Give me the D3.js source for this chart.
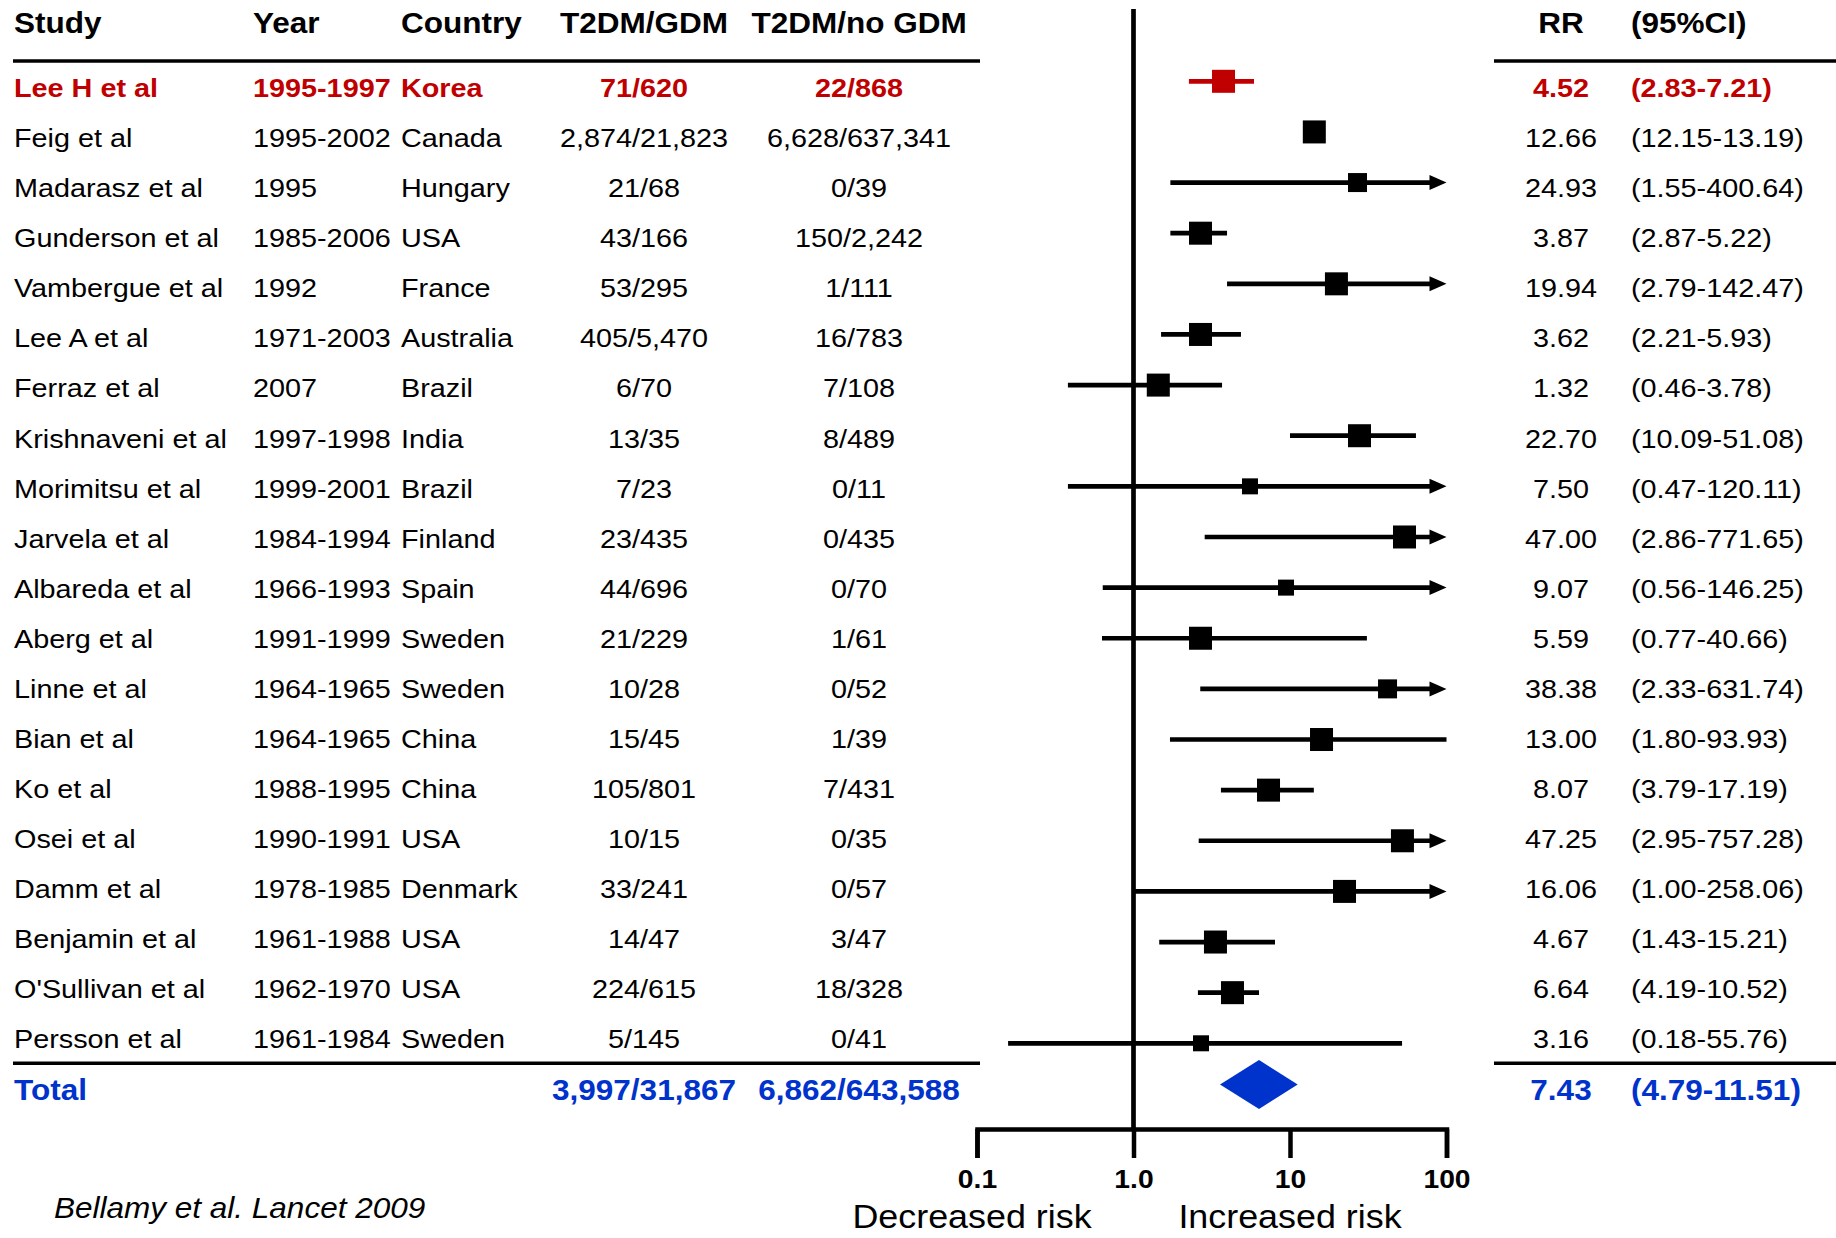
<html>
<head>
<meta charset="utf-8">
<script src="https://d3js.org/d3.v7.min.js"></script>
<style>
    body {margin: 0; background: #fff;}
    text {font-family: "Liberation Sans", Arial, sans-serif;}
</style>
</head>
<body>
<svg width=1836 height=1238></svg>

<script>
// table columns
const headers = ["Study", "Year", "Country", "T2DM/GDM", "T2DM/no GDM", "RR", "(95%CI)"];
const studies = ["Lee H et al", "Feig et al", "Madarasz et al", "Gunderson et al", "Vambergue et al", "Lee A et al",
    "Ferraz et al", "Krishnaveni et al", "Morimitsu et al", "Jarvela et al", "Albareda et al", "Aberg et al",
    "Linne et al", "Bian et al", "Ko et al", "Osei et al", "Damm et al", "Benjamin et al", "O'Sullivan et al", "Persson et al"];
const years = ["1995-1997", "1995-2002", "1995", "1985-2006", "1992", "1971-2003", "2007", "1997-1998", "1999-2001",
    "1984-1994", "1966-1993", "1991-1999", "1964-1965", "1964-1965", "1988-1995", "1990-1991", "1978-1985",
    "1961-1988", "1962-1970", "1961-1984"];
const countries = ["Korea", "Canada", "Hungary", "USA", "France", "Australia", "Brazil", "India", "Brazil", "Finland",
    "Spain", "Sweden", "Sweden", "China", "China", "USA", "Denmark", "USA", "USA", "Sweden"];
const gdm = ["71/620", "2,874/21,823", "21/68", "43/166", "53/295", "405/5,470", "6/70", "13/35", "7/23", "23/435",
    "44/696", "21/229", "10/28", "15/45", "105/801", "10/15", "33/241", "14/47", "224/615", "5/145"];
const noGdm = ["22/868", "6,628/637,341", "0/39", "150/2,242", "1/111", "16/783", "7/108", "8/489", "0/11", "0/435",
    "0/70", "1/61", "0/52", "1/39", "7/431", "0/35", "0/57", "3/47", "18/328", "0/41"];
const rrText = ["4.52", "12.66", "24.93", "3.87", "19.94", "3.62", "1.32", "22.70", "7.50", "47.00", "9.07", "5.59",
    "38.38", "13.00", "8.07", "47.25", "16.06", "4.67", "6.64", "3.16"];
const ciText = ["(2.83-7.21)", "(12.15-13.19)", "(1.55-400.64)", "(2.87-5.22)", "(2.79-142.47)", "(2.21-5.93)",
    "(0.46-3.78)", "(10.09-51.08)", "(0.47-120.11)", "(2.86-771.65)", "(0.56-146.25)", "(0.77-40.66)",
    "(2.33-631.74)", "(1.80-93.93)", "(3.79-17.19)", "(2.95-757.28)", "(1.00-258.06)", "(1.43-15.21)",
    "(4.19-10.52)", "(0.18-55.76)"];
const total = ["Total", "3,997/31,867", "6,862/643,588", "7.43", "(4.79-11.51)"];

// plotted marks, as drawn in the figure (values > 100 get an arrow)
const est = [3.76, 14.3, 27.0, 2.68, 19.8, 2.68, 1.44, 27.8, 5.55, 53.9, 9.43, 2.68, 42.0, 15.9, 7.29, 52.3, 22.3, 3.34, 4.29, 2.70];
const lo  = [2.26, 13.7, 1.72, 1.72, 3.96, 1.50, 0.381, 10.0, 0.381, 2.85, 0.636, 0.629, 2.67, 1.71, 3.62, 2.61, 1.00, 1.46, 2.58, 0.158];
const hi  = [5.89, 14.9, 400.64, 3.96, 142.47, 4.86, 3.68, 63.8, 120.11, 771.65, 146.25, 31.0, 631.74, 100, 14.2, 757.28, 258.06, 8.02, 6.34, 52.0];
const weight = [3, 3, 2, 3, 3, 3, 3, 3, 1, 3, 1, 3, 2, 3, 3, 3, 3, 3, 3, 1];
const pooled = {est: 6.34, lo: 3.57, hi: 11.2};

const tickVals = [0.1, 1, 10, 100];
const tickLabels = ["0.1", "1.0", "10", "100"];
const sideLabels = ["Decreased risk", "Increased risk"];
const source = "Bellamy et al. Lancet 2009";

const RED = "#c00000", BLUE = "#0033cc";
const SX = 1.087;

const svg = d3.select("svg");
const idx = d3.range(studies.length);

const xs = d3.scaleLog().domain([0.1, 100]).range([977, 1446.5]);
const textY = d3.scalePoint().domain(idx).range([97.2, 1048.1]);
const markY = d3.scalePoint().domain(idx).range([81.3, 1043.3]);
const size = d3.scaleOrdinal().domain([1, 2, 3]).range([16, 19, 23]);

function label(x, y, s, o) {
    return svg.append("text")
        .attr("transform", "translate(" + x + "," + y + ") scale(" + SX + ",1)")
        .attr("text-anchor", o.anchor || "start")
        .style("font-size", o.size + "px")
        .style("font-weight", o.bold ? "bold" : "normal")
        .style("font-style", o.italic ? "italic" : "normal")
        .attr("fill", o.color || "#000")
        .text(s);
}

// header
const cols = [[14, "start"], [253, "start"], [401, "start"], [644, "middle"], [859, "middle"], [1561, "middle"], [1631, "start"]];
headers.forEach(function(h, i) {
    label(cols[i][0], 33.3, h, {size: 29, bold: true, anchor: cols[i][1]});
});

// rows
idx.forEach(function(i) {
    const o = {size: 26.5, bold: i == 0, color: i == 0 ? RED : "#000"};
    const vals = [studies[i], years[i], countries[i], gdm[i], noGdm[i], rrText[i], ciText[i]];
    vals.forEach(function(v, j) {
        label(cols[j][0], textY(i), v, Object.assign({anchor: cols[j][1]}, o));
    });
});

// total row
const tb = {size: 29, bold: true, color: BLUE};
label(14, 1100, total[0], tb);
label(644, 1100, total[1], Object.assign({anchor: "middle"}, tb));
label(859, 1100, total[2], Object.assign({anchor: "middle"}, tb));
label(1561, 1100, total[3], Object.assign({anchor: "middle"}, tb));
label(1631, 1100, total[4], tb);

// rules
[[61, 13, 980], [61, 1494, 1836], [1063.3, 13, 980], [1063.3, 1494, 1836]].forEach(function(r) {
    svg.append("line").attr("x1", r[1]).attr("x2", r[2]).attr("y1", r[0]).attr("y2", r[0])
        .attr("stroke", "#000").attr("stroke-width", 3.6);
});

// reference line at 1.0
svg.append("line")
    .attr("x1", xs(1)).attr("x2", xs(1)).attr("y1", 9).attr("y2", 1129)
    .attr("stroke", "#000").attr("stroke-width", 4.7);

// CI lines
const xMax = xs(100), head = 16;
const g = svg.append("g");
g.selectAll("line.ci")
    .data(idx)
    .enter()
    .append("line")
    .attr("class", "ci")
    .attr("x1", function(i) {return xs(lo[i]);})
    .attr("x2", function(i) {return hi[i] > 100 ? xMax - head : xs(hi[i]);})
    .attr("y1", function(i) {return markY(i);})
    .attr("y2", function(i) {return markY(i);})
    .attr("stroke", function(i) {return i == 0 ? RED : "#000";})
    .attr("stroke-width", 4.7);

g.selectAll("polygon.arrow")
    .data(idx.filter(function(i) {return hi[i] > 100;}))
    .enter()
    .append("polygon")
    .attr("class", "arrow")
    .attr("points", function(i) {
        const y = markY(i);
        return [[xMax - head - 1, y - 7.5], [xMax, y], [xMax - head - 1, y + 7.5]].join(" ");
    })
    .attr("fill", "#000");

g.selectAll("rect")
    .data(idx)
    .enter()
    .append("rect")
    .attr("x", function(i) {return xs(est[i]) - size(weight[i]) / 2;})
    .attr("y", function(i) {return markY(i) - size(weight[i]) / 2;})
    .attr("width", function(i) {return size(weight[i]);})
    .attr("height", function(i) {return size(weight[i]);})
    .attr("fill", function(i) {return i == 0 ? RED : "#000";});

// pooled diamond
const dy = 1084.5;
svg.append("polygon")
    .attr("points", [[xs(pooled.lo), dy], [xs(pooled.est), dy - 24.5], [xs(pooled.hi), dy], [xs(pooled.est), dy + 24.5]].join(" "))
    .attr("fill", BLUE);

// axis
const ax = svg.append("g")
    .attr("transform", "translate(0,1129)")
    .call(d3.axisBottom(xs)
        .tickValues(tickVals)
        .tickFormat(function(d, i) {return tickLabels[i];})
        .tickSize(29)
        .tickSizeOuter(29)
        .tickPadding(12));
ax.select(".domain").attr("stroke-width", 4.5);
ax.selectAll(".tick line").attr("stroke-width", 4.5);
ax.selectAll(".tick text")
    .attr("transform", "scale(" + SX + ",1)")
    .style("font-family", "'Liberation Sans', Arial, sans-serif")
    .style("font-size", "26px")
    .style("font-weight", "bold")
    .attr("fill", "#000");

label(xs(0.1) - 5, 1228, sideLabels[0], {size: 33, anchor: "middle"});
label(xs(10), 1228, sideLabels[1], {size: 33, anchor: "middle"});

label(54, 1218, source, {size: 29, italic: true});
</script>
</body>
</html>
